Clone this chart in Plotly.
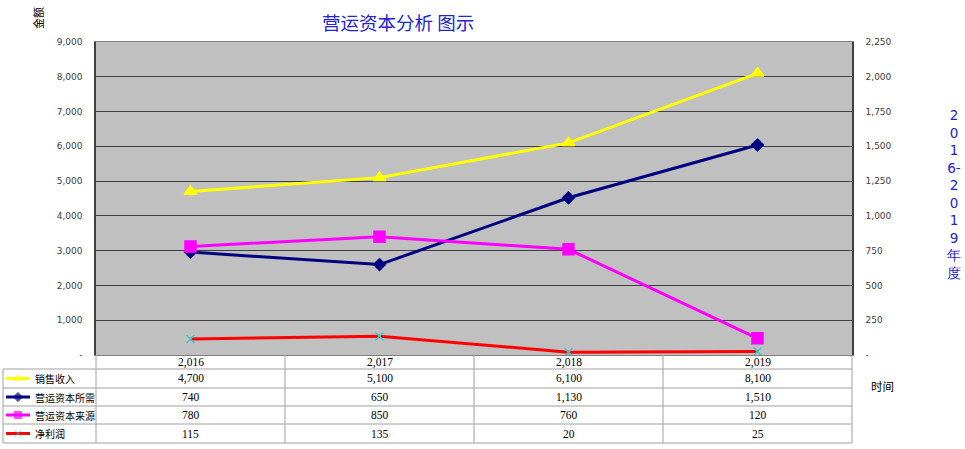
import plotly.graph_objects as go

years = ["2,016", "2,017", "2,018", "2,019"]
series_names = ["销售收入", "营运资本所需", "营运资本来源", "净利润"]
sales = [4700, 5100, 6100, 8100]
wc_need = [740, 650, 1130, 1510]
wc_source = [780, 850, 760, 120]
net_profit = [115, 135, 20, 25]

left_ticks = [0, 1000, 2000, 3000, 4000, 5000, 6000, 7000, 8000, 9000]
left_labels = ["-", "1,000", "2,000", "3,000", "4,000", "5,000", "6,000", "7,000", "8,000", "9,000"]
right_ticks = [0, 250, 500, 750, 1000, 1250, 1500, 1750, 2000, 2250]
right_labels = ["-", "250", "500", "750", "1,000", "1,250", "1,500", "1,750", "2,000", "2,250"]

W, H = 965, 449
def px(x): return x / W
def py(y): return 1 - y / H

colors = ["#FFFF00", "#000080", "#FF00FF", "#FF0000"]
symbols = ["triangle-up", "diamond", "square", "x-thin"]
msizes = [11, 9, 11, 8]
mcolors = ["#FFFF00", "#000080", "#FF00FF", "#33CCCC"]
axes = ["y", "y2", "y2", "y2"]
data = [sales, wc_need, wc_source, net_profit]

xs = list(range(len(years)))
fig = go.Figure()
for name, vals, c, s, ms, mc, ya in zip(series_names, data, colors, symbols, msizes, mcolors, axes):
    fig.add_trace(go.Scatter(
        x=xs, y=vals, name=name, mode="lines+markers", yaxis=ya,
        line=dict(color=c, width=3),
        marker=dict(symbol=s, size=ms, color=mc, line=dict(color=mc, width=1.5)),
        showlegend=False, cliponaxis=False))

# table legend keys on overlay pixel axes
row_y = [378.5, 397, 415, 433.5]
for c, s, mc, ry in zip(colors, symbols, mcolors, row_y):
    fig.add_trace(go.Scatter(
        x=[6, 18, 30], y=[ry, ry, ry], xaxis="x3", yaxis="y3", mode="lines+markers",
        line=dict(color=c, width=3),
        marker=dict(symbol=s, size=[0, 7, 0], color=mc, line=dict(color=mc, width=1)),
        showlegend=False, hoverinfo="skip"))

x0, x1 = 96, 852
y0, y1 = 42, 355
tickfont = dict(family="DejaVu Sans", size=9, color="#404040")
fig.update_layout(
    width=W, height=H, margin=dict(l=0, r=0, t=0, b=0, autoexpand=False),
    paper_bgcolor="white", plot_bgcolor="rgba(0,0,0,0)",
    xaxis=dict(domain=[px(x0), px(x1)], range=[-0.5, 3.5], showticklabels=False,
               showgrid=False, zeroline=False, showline=True, linecolor="#808080",
               linewidth=1, mirror=True, fixedrange=True, automargin=False),
    yaxis=dict(domain=[py(y1), py(y0)], range=[0, 9000], tickvals=left_ticks, ticktext=left_labels,
               showgrid=True, gridcolor="#404040", gridwidth=1, zeroline=False,
               showline=True, linecolor="#404040", linewidth=1.5,
               ticks="inside", ticklen=4, tickcolor="#404040",
               ticklabelstandoff=10, automargin=False, fixedrange=True,
               tickfont=tickfont),
    yaxis2=dict(overlaying="y", side="right", range=[0, 2250], tickvals=right_ticks,
                ticktext=right_labels, showgrid=False, zeroline=False,
                showline=True, linecolor="#404040", linewidth=1.5,
                ticks="inside", ticklen=4, tickcolor="#404040",
                ticklabelstandoff=10, automargin=False, fixedrange=True,
                tickfont=tickfont),
    xaxis3=dict(domain=[0, 1], range=[0, W], visible=False, fixedrange=True, automargin=False),
    yaxis3=dict(domain=[0, 1], range=[H, 0], visible=False, fixedrange=True, anchor="x3",
                automargin=False),
)

shapes = [dict(type="rect", xref="paper", yref="paper", x0=px(x0), x1=px(x1),
               y0=py(y1), y1=py(y0), fillcolor="#C0C0C0", line=dict(width=0), layer="below")]
line_style = dict(color="#A0A0A0", width=1)
col_x = [96, 285, 474, 663, 852]
for cx in col_x:
    shapes.append(dict(type="line", xref="paper", yref="paper",
                       x0=px(cx), x1=px(cx), y0=py(355), y1=py(443), line=line_style))
shapes.append(dict(type="line", xref="paper", yref="paper",
                   x0=px(3), x1=px(3), y0=py(369), y1=py(443), line=line_style))
for ry in [369, 388, 406, 424, 443]:
    shapes.append(dict(type="line", xref="paper", yref="paper",
                       x0=px(3), x1=px(852), y0=py(ry), y1=py(ry), line=line_style))
fig.update_layout(shapes=shapes)

ann = []
col_centers = [(col_x[i] + col_x[i + 1]) / 2 for i in range(4)]
tfont = dict(family="Liberation Serif", size=11.5, color="#000000")
for cx, yl in zip(col_centers, years):
    ann.append(dict(x=px(cx), y=py(362), xref="paper", yref="paper", text=yl,
                    showarrow=False, font=tfont, xanchor="center", yanchor="middle"))
for ry, name, vals in zip(row_y, series_names, data):
    ann.append(dict(x=px(33), y=py(ry), xref="paper", yref="paper", text=name,
                    showarrow=False, xanchor="left", yanchor="middle",
                    font=dict(family="Noto Sans CJK SC", size=10, color="#000000")))
    for cx, v in zip(col_centers, vals):
        ann.append(dict(x=px(cx), y=py(ry), xref="paper", yref="paper", text=f"{v:,}",
                        showarrow=False, font=tfont, xanchor="center", yanchor="middle"))

ann.append(dict(x=px(398), y=py(22), xref="paper", yref="paper", text="营运资本分析 图示",
                showarrow=False, xanchor="center", yanchor="middle",
                font=dict(family="Noto Sans CJK SC", size=18.5, color="#2323D6")))
ann.append(dict(x=px(38), y=py(18), xref="paper", yref="paper", text="金额",
                showarrow=False, textangle=-90, xanchor="center", yanchor="middle",
                font=dict(family="Noto Sans CJK SC", size=11, color="#000000")))
ann.append(dict(x=px(954), y=py(194), xref="paper", yref="paper",
                text="<br>".join(["2", "0", "1", "6-", "2", "0", "1", "9", "年", "度"]),
                showarrow=False, xanchor="center", yanchor="middle",
                font=dict(family="DejaVu Sans", size=13.5, color="#2323D6")))
ann.append(dict(x=px(882), y=py(386), xref="paper", yref="paper", text="时间",
                showarrow=False, xanchor="center", yanchor="middle",
                font=dict(family="Noto Sans CJK SC", size=11.5, color="#000000")))
fig.update_layout(annotations=ann)

fig.write_html("out.html", config={"displayModeBar": False},
               post_script="document.body.style.margin='0';")
